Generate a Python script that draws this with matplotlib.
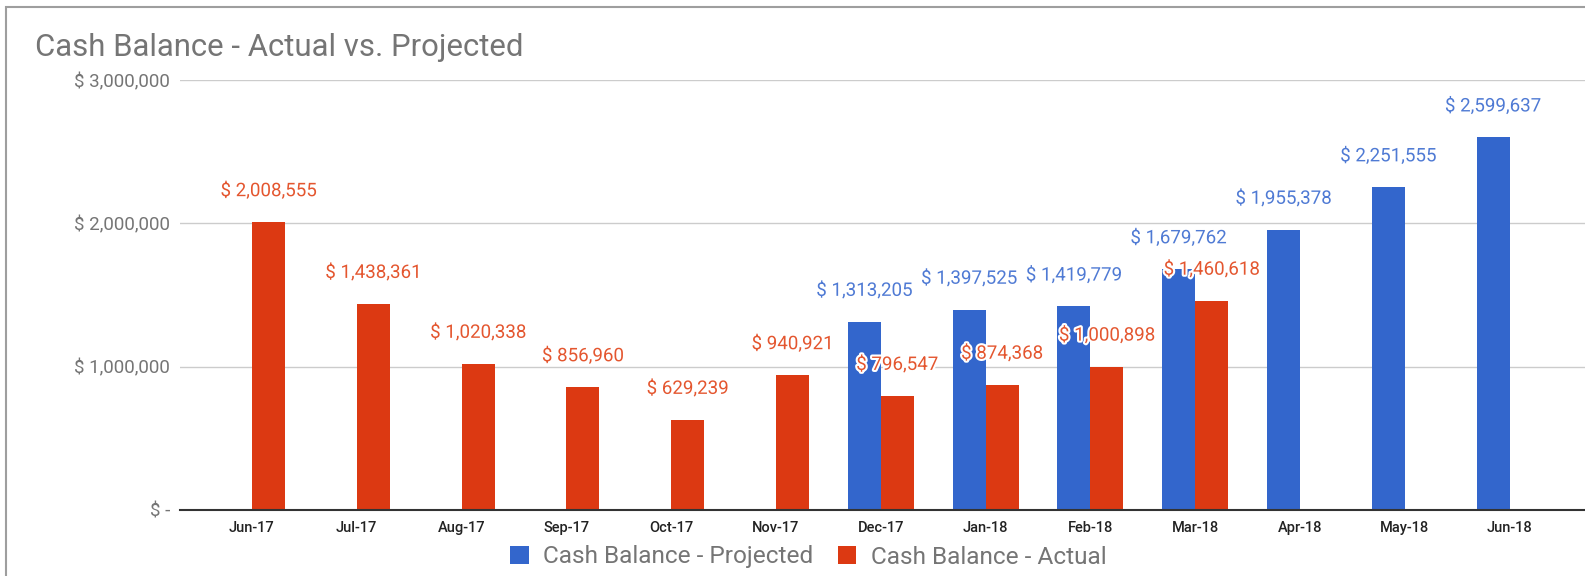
import numpy as np
import matplotlib
matplotlib.use("Agg")
import matplotlib.pyplot as plt
import matplotlib.patheffects as pe
from matplotlib.patches import Patch, Rectangle
from matplotlib.ticker import FuncFormatter

plt.rcParams['font.family'] = ['Roboto', 'DejaVu Sans']

# Data
months = ["Jun-17", "Jul-17", "Aug-17", "Sep-17", "Oct-17", "Nov-17", "Dec-17",
          "Jan-18", "Feb-18", "Mar-18", "Apr-18", "May-18", "Jun-18"]
projected = [None, None, None, None, None, None,
             1313205, 1397525, 1419779, 1679762, 1955378, 2251555, 2599637]
actual = [2008555, 1438361, 1020338, 856960, 629239, 940921,
          796547, 874368, 1000898, 1460618, None, None, None]

blue = "#3366CC"
red = "#DC3912"
blue_lbl = "#4f7ad4"
red_lbl = "#e4562f"
grey_txt = "#757575"

fig = plt.figure(figsize=(15.85, 5.76), dpi=100)
ax = fig.add_axes([180 / 1585, 66 / 576, 1 - 180 / 1585, (510 - 80) / 576])

x = np.arange(len(months))
w = 0.315
halo = [pe.withStroke(linewidth=3, foreground="white")]

# bars
for i, v in enumerate(projected):
    if v is not None:
        ax.bar(x[i] - w / 2, v, width=w, color=blue, zorder=2)
for i, v in enumerate(actual):
    if v is not None:
        ax.bar(x[i] + w / 2, v, width=w, color=red, zorder=2)

# value labels
for i, v in enumerate(projected):
    if v is not None:
        ax.annotate(f"$ {v:,}", (x[i] - w / 2, v), xytext=(0, 31),
                    textcoords="offset pixels", ha="center", va="center",
                    fontsize=13.5, color=blue_lbl, path_effects=halo, zorder=4)
for i, v in enumerate(actual):
    if v is not None:
        ax.annotate(f"$ {v:,}", (x[i] + w / 2, v), xytext=(0, 31),
                    textcoords="offset pixels", ha="center", va="center",
                    fontsize=13.5, color=red_lbl, path_effects=halo, zorder=5)

ax.set_xlim(-0.687, 12.72)
ax.set_ylim(0, 3000000)
ax.set_xticks(x)
ax.set_xticklabels(months, fontsize=10.5, fontweight="medium", color="#222222")
ax.set_yticks([0, 1000000, 2000000, 3000000])
ax.yaxis.set_major_formatter(FuncFormatter(lambda v, p: "$ -" if v == 0 else f"$ {int(v):,}"))
ax.tick_params(axis="y", length=0, pad=7, labelsize=13.5, labelcolor=grey_txt)
ax.tick_params(axis="x", length=0, pad=8)

for s in ["top", "right", "left"]:
    ax.spines[s].set_visible(False)
ax.spines["bottom"].set_color("#333333")
ax.spines["bottom"].set_linewidth(1.5)
ax.spines["bottom"].set_zorder(3)
ax.grid(axis="y", color="#cccccc", linewidth=1, zorder=0)
ax.set_axisbelow(True)

# title
fig.text(35 / 1585, 1 - 47 / 576, "Cash Balance - Actual vs. Projected",
         fontsize=22.4, color=grey_txt, ha="left", va="center")

# legend
handles = [Patch(facecolor=blue, label="Cash Balance - Projected"),
           Patch(facecolor=red, label="Cash Balance - Actual")]
leg = fig.legend(handles=handles, loc="center", bbox_to_anchor=(0.51, 1 - 557 / 576),
                 ncol=2, frameon=False, fontsize=17.6, handlelength=0.75, handleheight=0.75,
                 handletextpad=0.6, columnspacing=1.0)
for t in leg.get_texts():
    t.set_color(grey_txt)

# frame around the chart
fig.add_artist(Rectangle((6 / 1585, -0.05), 1.1, 1 - 7 / 576 + 0.05,
                         transform=fig.transFigure, fill=False,
                         edgecolor="#9e9e9e", linewidth=1.5))

fig.savefig("out.png", dpi=100)
